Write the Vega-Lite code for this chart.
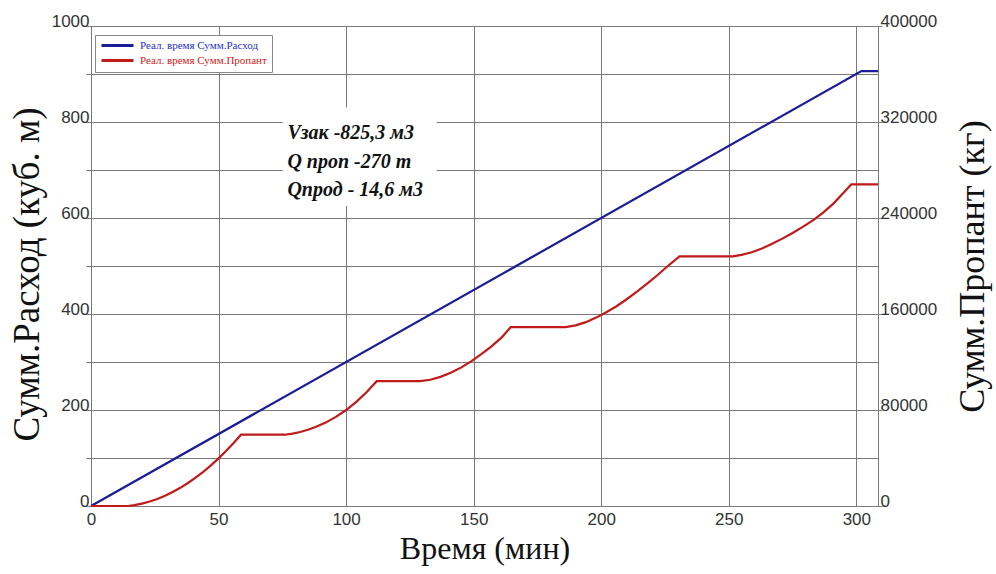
{
  "$schema": "https://vega.github.io/schema/vega-lite/v6.json",
  "width": 787,
  "height": 480,
  "autosize": "none",
  "padding": {"left": 91, "top": 26, "right": 118, "bottom": 68},
  "background": "white",
  "config": {
    "view": {"stroke": "#7a7a7a", "strokeWidth": 1},
    "font": "Liberation Sans"
  },
  "datasets": {
    "series": [
      {"t": 0, "v": 0, "s": "Реал. время Сумм.Расход"},
      {"t": 302, "v": 906, "s": "Реал. время Сумм.Расход"},
      {"t": 308.5, "v": 906, "s": "Реал. время Сумм.Расход"},
      {"t": 0, "v": 0, "s": "Реал. время Сумм.Пропант"},
      {"t": 14.5, "v": 0, "s": "Реал. время Сумм.Пропант"},
      {"t": 17, "v": 700, "s": "Реал. время Сумм.Пропант"},
      {"t": 20, "v": 1980, "s": "Реал. время Сумм.Пропант"},
      {"t": 23, "v": 3700, "s": "Реал. время Сумм.Пропант"},
      {"t": 26, "v": 5880, "s": "Реал. время Сумм.Пропант"},
      {"t": 29, "v": 8510, "s": "Реал. время Сумм.Пропант"},
      {"t": 32, "v": 11600, "s": "Реал. время Сумм.Пропант"},
      {"t": 35, "v": 15150, "s": "Реал. время Сумм.Пропант"},
      {"t": 38, "v": 19150, "s": "Реал. время Сумм.Пропант"},
      {"t": 41, "v": 23600, "s": "Реал. время Сумм.Пропант"},
      {"t": 44, "v": 28500, "s": "Реал. время Сумм.Пропант"},
      {"t": 47, "v": 33900, "s": "Реал. время Сумм.Пропант"},
      {"t": 50, "v": 39700, "s": "Реал. время Сумм.Пропант"},
      {"t": 53, "v": 46000, "s": "Реал. время Сумм.Пропант"},
      {"t": 56, "v": 52700, "s": "Реал. время Сумм.Пропант"},
      {"t": 58.8, "v": 59400, "s": "Реал. время Сумм.Пропант"},
      {"t": 76, "v": 59400, "s": "Реал. время Сумм.Пропант"},
      {"t": 79, "v": 60300, "s": "Реал. время Сумм.Пропант"},
      {"t": 82, "v": 61700, "s": "Реал. время Сумм.Пропант"},
      {"t": 85, "v": 63500, "s": "Реал. время Сумм.Пропант"},
      {"t": 88, "v": 65800, "s": "Реал. время Сумм.Пропант"},
      {"t": 92, "v": 69500, "s": "Реал. время Сумм.Пропант"},
      {"t": 96, "v": 74300, "s": "Реал. время Сумм.Пропант"},
      {"t": 100, "v": 80000, "s": "Реал. время Сумм.Пропант"},
      {"t": 104, "v": 86800, "s": "Реал. время Сумм.Пропант"},
      {"t": 108, "v": 94800, "s": "Реал. время Сумм.Пропант"},
      {"t": 112, "v": 104000, "s": "Реал. время Сумм.Пропант"},
      {"t": 129, "v": 104000, "s": "Реал. время Сумм.Пропант"},
      {"t": 133, "v": 105200, "s": "Реал. время Сумм.Пропант"},
      {"t": 137, "v": 107600, "s": "Реал. время Сумм.Пропант"},
      {"t": 141, "v": 111000, "s": "Реал. время Сумм.Пропант"},
      {"t": 145, "v": 115300, "s": "Реал. время Сумм.Пропант"},
      {"t": 149, "v": 120500, "s": "Реал. время Сумм.Пропант"},
      {"t": 153, "v": 126500, "s": "Реал. время Сумм.Пропант"},
      {"t": 157, "v": 133000, "s": "Реал. время Сумм.Пропант"},
      {"t": 161, "v": 140500, "s": "Реал. время Сумм.Пропант"},
      {"t": 164.5, "v": 149000, "s": "Реал. время Сумм.Пропант"},
      {"t": 186, "v": 149000, "s": "Реал. время Сумм.Пропант"},
      {"t": 190, "v": 150500, "s": "Реал. время Сумм.Пропант"},
      {"t": 194, "v": 153200, "s": "Реал. время Сумм.Пропант"},
      {"t": 198, "v": 157000, "s": "Реал. время Сумм.Пропант"},
      {"t": 202, "v": 161500, "s": "Реал. время Сумм.Пропант"},
      {"t": 206, "v": 166500, "s": "Реал. время Сумм.Пропант"},
      {"t": 210, "v": 172300, "s": "Реал. время Сумм.Пропант"},
      {"t": 214, "v": 178600, "s": "Реал. время Сумм.Пропант"},
      {"t": 218, "v": 185300, "s": "Реал. время Сумм.Пропант"},
      {"t": 222, "v": 192300, "s": "Реал. время Сумм.Пропант"},
      {"t": 226, "v": 199800, "s": "Реал. время Сумм.Пропант"},
      {"t": 230.7, "v": 208000, "s": "Реал. время Сумм.Пропант"},
      {"t": 251.5, "v": 208000, "s": "Реал. время Сумм.Пропант"},
      {"t": 255, "v": 209300, "s": "Реал. время Сумм.Пропант"},
      {"t": 259, "v": 211500, "s": "Реал. время Сумм.Пропант"},
      {"t": 263, "v": 214500, "s": "Реал. время Сумм.Пропант"},
      {"t": 267, "v": 218600, "s": "Реал. время Сумм.Пропант"},
      {"t": 271, "v": 222800, "s": "Реал. время Сумм.Пропант"},
      {"t": 275, "v": 227500, "s": "Реал. время Сумм.Пропант"},
      {"t": 279, "v": 232600, "s": "Реал. время Сумм.Пропант"},
      {"t": 283, "v": 238000, "s": "Реал. время Сумм.Пропант"},
      {"t": 287, "v": 244500, "s": "Реал. время Сумм.Пропант"},
      {"t": 291, "v": 252000, "s": "Реал. время Сумм.Пропант"},
      {"t": 295, "v": 261000, "s": "Реал. время Сумм.Пропант"},
      {"t": 298, "v": 268000, "s": "Реал. время Сумм.Пропант"},
      {"t": 308.5, "v": 268000, "s": "Реал. время Сумм.Пропант"}
    ],
    "notes": [
      {"x": 77, "y": 777, "label": "Vзак -825,3 м3"},
      {"x": 77, "y": 717, "label": "Q проп -270 т"},
      {"x": 77, "y": 658, "label": "Qпрод - 14,6 м3"}
    ],
    "box": [
      {"x": 75.2, "x2": 135.5, "y": 625, "y2": 830}
    ]
  },
  "layer": [
    {
      "layer": [
        {
          "data": {"name": "box"},
          "mark": {"type": "rect", "fill": "white", "stroke": null},
          "encoding": {
            "x": {"field": "x", "type": "quantitative", "scale": {"domain": [0, 308.5], "nice": false}},
            "x2": {"field": "x2"},
            "y": {"field": "y", "type": "quantitative", "scale": {"domain": [0, 1000], "nice": false}},
            "y2": {"field": "y2"}
          }
        },
        {
          "data": {"name": "series"},
          "transform": [{"filter": "datum.s === 'Реал. время Сумм.Расход'"}],
          "mark": {"type": "line", "strokeWidth": 2.2},
          "encoding": {
            "x": {
              "field": "t", "type": "quantitative",
              "scale": {"domain": [0, 308.5], "nice": false},
              "axis": {
                "title": "Время (мин)",
                "values": [0, 50, 100, 150, 200, 250, 300],
                "grid": true, "gridColor": "#7a7a7a", "gridWidth": 1,
                "ticks": false, "domain": false,
                "labelFont": "Liberation Sans", "labelFontSize": 17, "labelColor": "#333",
                "labelPadding": 5, "labelFlush": false,
                "titleFont": "Liberation Serif", "titleFontSize": 32, "titleFontWeight": "normal",
                "titleColor": "#111", "titlePadding": 6
              }
            },
            "y": {
              "field": "v", "type": "quantitative",
              "scale": {"domain": [0, 1000], "nice": false},
              "axis": {
                "title": "Сумм.Расход (куб. м)",
                "values": [0, 100, 200, 300, 400, 500, 600, 700, 800, 900, 1000],
                "format": "d",
                "labelExpr": "datum.value % 200 === 0 ? datum.label : ''",
                "grid": true, "gridColor": "#7a7a7a", "gridWidth": 1,
                "domain": false,
                "tickColor": "#7a7a7a", "tickSize": 5,
                "labelFont": "Liberation Sans", "labelFontSize": 17, "labelColor": "#333",
                "labelPadding": -3, "labelBaseline": "alphabetic",
                "titleFont": "Liberation Serif", "titleFontSize": 37, "titleFontWeight": "normal",
                "titleColor": "#111", "titleAngle": 270,
                "titleX": -64, "titleY": 248, "titleAlign": "center", "titleBaseline": "middle",
                "encode": {"ticks": {"update": {"opacity": {"signal": "datum.value % 200 === 0 ? 1 : 0"}}}}
              }
            },
            "color": {
              "field": "s", "type": "nominal",
              "scale": {"domain": ["Реал. время Сумм.Расход", "Реал. время Сумм.Пропант"], "range": ["#1c1c94", "#c01a1a"]},
              "legend": {
                "orient": "none", "legendX": 4, "legendY": 9,
                "title": null,
                "symbolType": "M-1,0H7", "symbolSize": 64, "symbolStrokeWidth": 3,
                "labelFont": "Liberation Serif", "labelFontSize": 11,
                "labelOffset": 29, "labelLimit": 300,
                "strokeColor": "#888", "fillColor": "white",
                "padding": 5, "rowPadding": 2,
                "encode": {"labels": {"update": {"fill": {"signal": "indexof(datum.label, 'Пропант') >= 0 ? '#d42020' : '#1f2fc8'"}}}}
              }
            }
          }
        },
        {
          "data": {"name": "notes"},
          "mark": {"type": "text", "align": "left", "baseline": "middle", "font": "Liberation Serif", "fontStyle": "italic", "fontWeight": "bold", "fontSize": 20, "color": "#111"},
          "encoding": {
            "x": {"field": "x", "type": "quantitative"},
            "y": {"field": "y", "type": "quantitative"},
            "text": {"field": "label"}
          }
        }
      ]
    },
    {
      "data": {"name": "series"},
      "transform": [{"filter": "datum.s === 'Реал. время Сумм.Пропант'"}],
      "mark": {"type": "line", "strokeWidth": 2.2},
      "encoding": {
        "x": {"field": "t", "type": "quantitative"},
        "y": {
          "field": "v", "type": "quantitative",
          "scale": {"domain": [0, 400000], "nice": false},
          "axis": {
            "orient": "right",
            "title": "Сумм.Пропант (кг)",
            "values": [0, 80000, 160000, 240000, 320000, 400000],
            "format": "d",
            "grid": false, "domain": false,
            "tickColor": "#7a7a7a", "tickSize": 4,
            "labelFont": "Liberation Sans", "labelFontSize": 17, "labelColor": "#333",
            "labelPadding": -2, "labelBaseline": "alphabetic",
            "titleFont": "Liberation Serif", "titleFontSize": 36, "titleFontWeight": "normal",
            "titleColor": "#111", "titleAngle": 270,
            "titleX": 94, "titleY": 240, "titleAlign": "center", "titleBaseline": "middle"
          }
        },
        "color": {"field": "s", "type": "nominal"}
      }
    }
  ],
  "resolve": {"scale": {"y": "independent"}}
}
